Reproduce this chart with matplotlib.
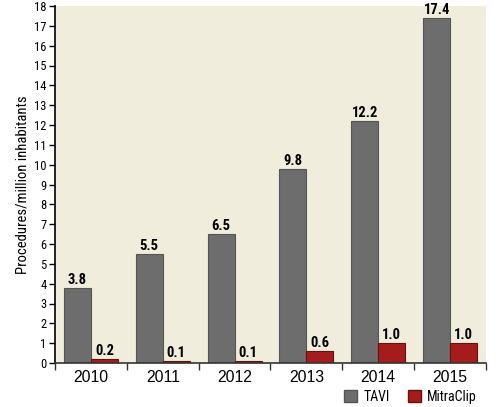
import matplotlib.pyplot as plt
import numpy as np
from matplotlib.patches import Patch

# data
years = ["2010", "2011", "2012", "2013", "2014", "2015"]
tavi = [3.8, 5.5, 6.5, 9.8, 12.2, 17.4]
mitraclip = [0.2, 0.1, 0.1, 0.6, 1.0, 1.0]

NARROW = ["Roboto Condensed", "DejaVu Sans"]
BG = "#f1eddc"
GRAY = "#6d6d6d"
RED = "#a51c1c"

fig = plt.figure(figsize=(5.02, 4.07), dpi=100)
ax = fig.add_axes([55/502, 44/407, 431/502, 357/407])
ax.set_facecolor(BG)

x = np.arange(len(years))
w = 0.375
ax.bar(x - w/2, tavi, w, color=GRAY, edgecolor="#555555", linewidth=0.8)
ax.bar(x + w/2, mitraclip, w, color=RED, edgecolor="#6a1010", linewidth=0.8)

#value labels above each bar
for i in range(len(years)):
    ax.text(x[i] - w/2, tavi[i] + 0.2, f"{tavi[i]:.1f}", ha="center", va="baseline",
            fontsize=10.5, fontweight="bold", family=NARROW)
    ax.text(x[i] + w/2, mitraclip[i] + 0.2, f"{mitraclip[i]:.1f}", ha="center", va="baseline",
            fontsize=10.5, fontweight="bold", family=NARROW)

ax.set_xlim(-0.5, len(years) - 0.5)
ax.set_ylim(0, 18)
ax.set_yticks(range(0, 19))
ax.set_yticklabels([str(v) for v in range(0, 19)], fontsize=9, family=NARROW)
ax.set_xticks(x)
ax.set_xticklabels(years, fontsize=11.3, family="Liberation Sans")
ax.tick_params(axis="x", length=0, pad=5)
ax.set_xticks(np.arange(-0.5, len(years)), minor=True)
ax.tick_params(axis="x", which="minor", length=5, width=1, color="#333333")
ax.tick_params(axis="y", length=4, width=1, pad=2)

for s in ["top", "right"]:
    ax.spines[s].set_visible(False)
ax.spines["left"].set_linewidth(1.2)
ax.spines["bottom"].set_color("#333333")
ax.spines["bottom"].set_linewidth(1.2)

ax.set_ylabel("Procedures/million inhabitants", fontsize=10.5, family=NARROW, labelpad=3)

handles = [Patch(facecolor=GRAY, edgecolor="#555555", label="TAVI"),
           Patch(facecolor=RED, edgecolor="#6a1010", label="MitraClip")]
fig.legend(handles=handles, loc="center left", bbox_to_anchor=(344/502, 1 - 397/407), ncol=2,
           frameon=False, prop={"family": NARROW, "size": 10},
           handlelength=0.95, handleheight=0.95, columnspacing=1.3, handletextpad=0.45,
           borderpad=0, borderaxespad=0)

plt.savefig("out.png", dpi=100)
